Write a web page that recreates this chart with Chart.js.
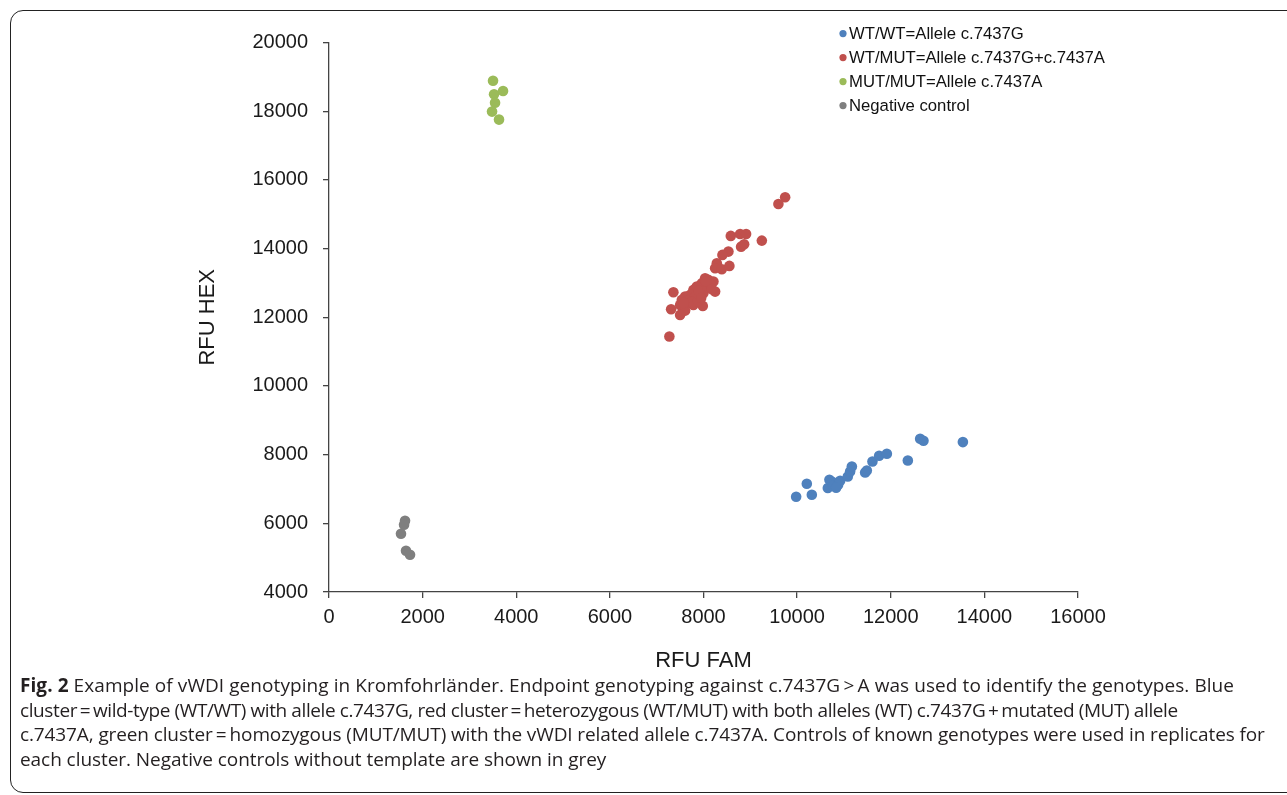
<!DOCTYPE html>
<html>
<head>
<meta charset="utf-8">
<script src="https://cdn.jsdelivr.net/npm/chart.js@4/dist/chart.umd.min.js"></script>
<style>
    body { margin: 0; background: #fff; width: 1287px; height: 795px; overflow: hidden; position: relative; }
    .frame {
        position: absolute; left: 10px; top: 10px; width: 1320px; height: 783px;
        border: 1.5px solid #222; border-radius: 13px; box-sizing: border-box;
    }
    #chartWrap { position: absolute; left: 0; top: 0; width: 1287px; height: 700px; }
    .caption {
        position: absolute; left: 20px; top: 673px;
        font-family: "Open Sans", sans-serif; font-size: 19px; color: #231f20;
        line-height: 24.7px; white-space: nowrap;
    }
    .caption b { font-weight: 700; }
    .l1 { letter-spacing: 0.07px; }
    .l2 { letter-spacing: -0.40px; }
    .l3 { letter-spacing: -0.115px; }
    .l4 { letter-spacing: -0.06px; }
</style>
</head>
<body>
<div class="frame"></div>
<div id="chartWrap"><canvas id="genoChart" width="1287" height="700"></canvas></div>
<div class="caption">
    <div class="l1"><b>Fig. 2</b> Example of vWDI genotyping in Kromfohrländer. Endpoint genotyping against c.7437G&thinsp;&gt;&thinsp;A was used to identify the genotypes. Blue</div>
    <div class="l2">cluster&thinsp;=&thinsp;wild-type (WT/WT) with allele c.7437G, red cluster&thinsp;=&thinsp;heterozygous (WT/MUT) with both alleles (WT) c.7437G&thinsp;+&thinsp;mutated (MUT) allele</div>
    <div class="l3">c.7437A, green cluster&thinsp;=&thinsp;homozygous (MUT/MUT) with the vWDI related allele c.7437A. Controls of known genotypes were used in replicates for</div>
    <div class="l4">each cluster. Negative controls without template are shown in grey</div>
</div>
<script>
// Endpoint genotyping data (RFU FAM on x, RFU HEX on y)
const seriesLabels = ['WT/WT=Allele c.7437G', 'WT/MUT=Allele c.7437G+c.7437A', 'MUT/MUT=Allele c.7437A', 'Negative control'];
const seriesColors = ['#4f81bd', '#c0504d', '#9bbb59', '#7f7f7f'];

const wtFam = [9979, 10207, 10314, 10656, 10690, 10748, 10769, 10876, 10919, 10833, 11083, 11132, 11169, 11453, 11489, 11609, 11752, 11917, 12365, 12628, 12699, 13541];
const wtHex = [6774, 7152, 6832, 7027, 7268, 7210, 7094, 7123, 7239, 7036, 7364, 7510, 7655, 7481, 7539, 7801, 7967, 8025, 7830, 8462, 8404, 8366];

const hetFam = [9744, 9600, 8583, 8782, 8910, 9246, 8803, 8868, 8532, 8404, 8284, 8248, 8391, 8553, 8034, 8105, 8212, 8248, 7964, 7857, 7784, 7998, 7714, 7607, 7536, 7357, 7643, 7784, 7985, 7500, 7308, 7607, 7500, 7271,
                7700, 7820, 7900, 8080, 8150, 7660, 7760, 7880, 8050, 8180, 7580, 7950];
const hetHex = [15496, 15301, 14370, 14428, 14428, 14233, 14058, 14128, 13913, 13817, 13575, 13430, 13400, 13497, 13139, 13089, 13040, 12749, 12993, 12894, 12798, 12702, 12652, 12603, 12507, 12731, 12411, 12361, 12332, 12361, 12236, 12195, 12070, 11439,
                12520, 12600, 12780, 12900, 12960, 12480, 12450, 12470, 13050, 12820, 12420, 12560];

const mutFam = [3504, 3526, 3718, 3547, 3483, 3632];
const mutHex = [18889, 18494, 18590, 18249, 17991, 17758];

const negFam = [1624, 1603, 1538, 1645, 1731];
const negHex = [6075, 5959, 5697, 5202, 5086];

const xMin = 0, xMax = 16000, xStep = 2000;
const yMin = 4000, yMax = 20000, yStep = 2000;

const toPoints = (xs, ys) => xs.map((x, i) => ({ x: x, y: ys[i] }));
const allSeries = [[wtFam, wtHex], [hetFam, hetHex], [mutFam, mutHex], [negFam, negHex]];

// legend drawn inside the plot, top right
const cornerLegend = {
    id: 'cornerLegend',
    afterDraw(chart) {
        const ctx = chart.ctx;
        const area = chart.chartArea;
        const x0 = area.left + 514;
        const y0 = area.top - 9;
        ctx.save();
        ctx.font = '16.7px "Liberation Sans", Arial, sans-serif';
        ctx.textBaseline = 'middle';
        chart.data.datasets.forEach((ds, i) => {
            const y = y0 + i * 24;
            ctx.fillStyle = ds.backgroundColor;
            ctx.beginPath();
            ctx.arc(x0, y, 3.6, 0, Math.PI * 2);
            ctx.fill();
            ctx.fillStyle = '#111';
            ctx.fillText(ds.label, x0 + 6, y + 1);
        });
        ctx.restore();
    }
};

const axisFont = { family: '"Liberation Sans", Arial, sans-serif', size: 20 };
const titleFont = { family: '"Liberation Sans", Arial, sans-serif', size: 22 };
const plainNumber = value => String(value);

new Chart(document.getElementById('genoChart'), {
    type: 'scatter',
    data: {
        datasets: allSeries.map((s, i) => ({
            label: seriesLabels[i],
            data: toPoints(s[0], s[1]),
            backgroundColor: seriesColors[i],
            borderColor: seriesColors[i],
            borderWidth: 0,
            pointRadius: 5.3,
            pointHoverRadius: 5.3
        }))
    },
    options: {
        responsive: false,
        animation: false,
        layout: { padding: { left: 191, right: 209, top: 42.6, bottom: 22 } },
        plugins: {
            legend: { display: false },
            tooltip: { enabled: false }
        },
        scales: {
            x: {
                type: 'linear',
                min: xMin, max: xMax,
                afterFit: axis => { axis.height = 86; },
                ticks: { stepSize: xStep, color: '#1a1a1a', font: axisFont, padding: 7, maxRotation: 0, callback: plainNumber },
                grid: { drawOnChartArea: false, drawTicks: true, tickLength: 6, color: '#444', lineWidth: 1.3 },
                border: { display: true, color: '#444', width: 1.3 },
                title: { display: true, text: 'RFU FAM', color: '#1a1a1a', font: titleFont, padding: { top: 4, bottom: 4 } }
            },
            y: {
                type: 'linear',
                min: yMin, max: yMax,
                afterFit: axis => { axis.width = 138; },
                ticks: { stepSize: yStep, color: '#1a1a1a', font: axisFont, padding: 15, callback: plainNumber },
                grid: { drawOnChartArea: false, drawTicks: true, tickLength: 6, color: '#444', lineWidth: 1.3 },
                border: { display: true, color: '#444', width: 1.3 },
                title: { display: true, text: 'RFU HEX', color: '#1a1a1a', font: titleFont, padding: { top: 4, bottom: 4 } }
            }
        }
    },
    plugins: [cornerLegend]
});
</script>
</body>
</html>
